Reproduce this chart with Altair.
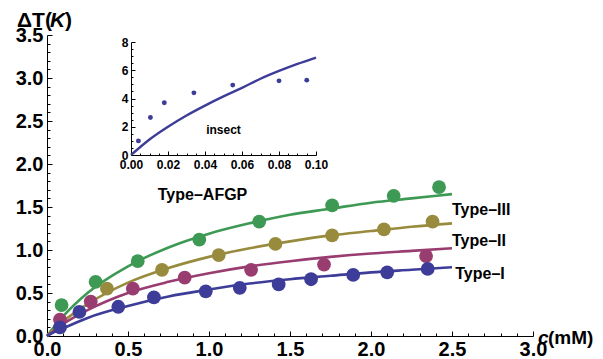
import altair as alt
import pandas as pd

# ---------------- data ----------------
series_names = ["Type-AFGP", "Type-III", "Type-II", "Type-I"]
series_colors = ["#3d9954", "#998b3d", "#993d71", "#3d3d99"]

c_afgp = [0.09, 0.30, 0.56, 0.94, 1.31, 1.76, 2.14, 2.42]
dT_afgp = [0.36, 0.63, 0.87, 1.12, 1.33, 1.52, 1.63, 1.73]
c_t3 = [0.37, 0.71, 1.06, 1.41, 1.76, 2.08, 2.38]
dT_t3 = [0.55, 0.77, 0.94, 1.07, 1.17, 1.24, 1.33]
c_t2 = [0.08, 0.27, 0.53, 0.85, 1.26, 1.71, 2.34]
dT_t2 = [0.19, 0.40, 0.55, 0.68, 0.77, 0.83, 0.93]
c_t1 = [0.08, 0.20, 0.44, 0.66, 0.98, 1.19, 1.43, 1.63, 1.89, 2.10, 2.35]
dT_t1 = [0.10, 0.28, 0.34, 0.45, 0.52, 0.56, 0.60, 0.66, 0.71, 0.74, 0.78]

c_fit = [0, 0.05, 0.1, 0.25, 0.5, 0.75, 1.0, 1.25, 1.5, 1.75, 2.0, 2.25, 2.5]
fit_afgp = [0, 0.12, 0.23, 0.50, 0.81, 1.03, 1.19, 1.31, 1.41, 1.48, 1.55, 1.60, 1.65]
fit_t3 = [0, 0.09, 0.17, 0.37, 0.62, 0.79, 0.92, 1.02, 1.10, 1.17, 1.22, 1.27, 1.31]
fit_t2 = [0, 0.07, 0.14, 0.30, 0.50, 0.63, 0.73, 0.81, 0.87, 0.92, 0.96, 0.99, 1.02]
fit_t1 = [0, 0.05, 0.09, 0.21, 0.35, 0.46, 0.54, 0.61, 0.66, 0.70, 0.74, 0.77, 0.80]

label_text = ["Type\u2013AFGP", "Type\u2013III", "Type\u2013II", "Type\u2013I"]
label_c = [0.96, 2.50, 2.50, 2.52]
label_dT = [1.64, 1.46, 1.10, 0.72]
label_align = ["center", "left", "left", "left"]

# inset (insect)
ci = [0.004, 0.0105, 0.018, 0.034, 0.055, 0.080, 0.095]
dTi = [1.0, 2.65, 3.7, 4.4, 4.95, 5.25, 5.3]
ci_fit = [0, 0.01, 0.02, 0.03, 0.04, 0.05, 0.06, 0.07, 0.08, 0.09, 0.10]
dTi_fit = [0, 1.1, 2.0, 2.8, 3.5, 4.15, 4.75, 5.4, 5.95, 6.45, 6.9]

# ---------------- tables ----------------
pts = pd.concat([
    pd.DataFrame({"c": c, "dT": d, "s": n})
    for c, d, n in zip([c_afgp, c_t3, c_t2, c_t1], [dT_afgp, dT_t3, dT_t2, dT_t1], series_names)
])
fits = pd.concat([
    pd.DataFrame({"c": c_fit, "dT": f, "s": n})
    for f, n in zip([fit_afgp, fit_t3, fit_t2, fit_t1], series_names)
])
labels = pd.DataFrame({"c": label_c, "dT": label_dT, "t": label_text, "a": label_align})
ins_pts = pd.DataFrame({"ci": ci, "dTi": dTi})
ins_fit = pd.DataFrame({"ci": ci_fit, "dTi": dTi_fit})

FONT = "Liberation Sans"
W, H = 486, 301

x_ticks = [round(i * 0.1, 2) for i in range(0, 31)]
y_ticks = [round(i * 0.1, 2) for i in range(0, 36)]
xi_ticks = [round(i * 0.005, 3) for i in range(0, 21)]
yi_ticks = [round(i * 0.5, 2) for i in range(0, 17)]

major_half = "abs(datum.value*2 - round(datum.value*2)) < 0.001"

x_main = alt.X("c:Q", scale=alt.Scale(domain=[0, 3.0], nice=False, zero=False),
               axis=alt.Axis(orient="bottom", values=x_ticks, title=None,
                             labelExpr=f"{major_half} ? format(datum.value, '.1f') : ''",
                             tickSize={"expr": f"{major_half} ? -5 : -3"},
                             labelPadding=8, labelFontSize=20))
y_main = alt.Y("dT:Q", scale=alt.Scale(domain=[0, 3.5], nice=False, zero=False),
               axis=alt.Axis(orient="left", values=y_ticks, title=None,
                             labelExpr=f"{major_half} ? format(datum.value, '.1f') : ''",
                             tickSize={"expr": f"{major_half} ? -5 : -3"},
                             labelPadding=9, labelFontSize=20))
color = alt.Color("s:N", scale=alt.Scale(domain=series_names, range=series_colors), legend=None)

lines = alt.Chart(fits).mark_line(strokeWidth=2.6, interpolate="monotone").encode(
    x=x_main, y=y_main, color=color, detail="s:N")
points = alt.Chart(pts).mark_circle(size=190, opacity=1).encode(x=x_main, y=y_main, color=color)
lab_left = alt.Chart(labels[labels.a == "left"]).mark_text(
    font=FONT, fontWeight="bold", fontSize=16, baseline="middle", align="left").encode(
    x=x_main, y=y_main, text="t:N")
lab_center = alt.Chart(labels[labels.a == "center"]).mark_text(
    font=FONT, fontWeight="bold", fontSize=16, baseline="middle", align="center").encode(
    x=x_main, y=y_main, text="t:N")

one = alt.Data(values=[{"k": 1}])
ytitle1 = alt.Chart(one).mark_text(text="\u0394T(", font=FONT, fontWeight="bold", fontSize=21,
                                   align="left", baseline="alphabetic").encode(
    x=alt.value(-30), y=alt.value(-8))
ytitle2 = alt.Chart(one).mark_text(text="K", font=FONT, fontWeight="bold", fontStyle="italic",
                                   fontSize=21, align="left", baseline="alphabetic").encode(
    x=alt.value(3), y=alt.value(-8))
ytitle3 = alt.Chart(one).mark_text(text=")", font=FONT, fontWeight="bold", fontSize=21,
                                   align="left", baseline="alphabetic").encode(
    x=alt.value(18), y=alt.value(-8))
xtitle1 = alt.Chart(one).mark_text(text="c", font=FONT, fontWeight="bold", fontStyle="italic",
                                   fontSize=19, align="left", baseline="alphabetic").encode(
    x=alt.value(491), y=alt.value(309))
xtitle2 = alt.Chart(one).mark_text(text="(mM)", font=FONT, fontWeight="bold", fontSize=19,
                                   align="left", baseline="alphabetic").encode(
    x=alt.value(501), y=alt.value(309))

main = alt.layer(lines, points, lab_left, lab_center, ytitle1, ytitle2, ytitle3, xtitle1, xtitle2)

# inset: plot area from page x 131..316, y 42..155 ; main plot origin at page (47, 35)
major_xi = "abs(datum.value*50 - round(datum.value*50)) < 0.001"
major_yi = "abs(datum.value/2 - round(datum.value/2)) < 0.001"
x_in = alt.X("ci:Q", scale=alt.Scale(domain=[0, 0.1], range=[84, 269], nice=False, zero=False),
             axis=alt.Axis(orient="bottom", offset=-181, values=xi_ticks, title=None,
                           labelExpr=f"{major_xi} ? format(datum.value, '.2f') : ''",
                           tickSize={"expr": f"{major_xi} ? -4 : -2"},
                           labelPadding=8, labelFontSize=12))
y_in = alt.Y("dTi:Q", scale=alt.Scale(domain=[0, 8], range=[120, 7], nice=False, zero=False),
             axis=alt.Axis(orient="left", offset=-84, values=yi_ticks, title=None,
                           labelExpr=f"{major_yi} ? format(datum.value, 'd') : ''",
                           tickSize={"expr": f"{major_yi} ? -4 : -2"},
                           labelPadding=7, labelFontSize=12))
in_line = alt.Chart(ins_fit).mark_line(color="#3d3d99", strokeWidth=2.4, interpolate="monotone").encode(
    x=x_in, y=y_in)
in_pts = alt.Chart(ins_pts).mark_circle(color="#3d3d99", size=24, opacity=1).encode(x=x_in, y=y_in)
in_text = alt.Chart(pd.DataFrame({"ci": [0.05], "dTi": [1.8], "t": ["insect"]})).mark_text(
    font=FONT, fontWeight="bold", fontSize=12, align="center", baseline="middle").encode(
    x=x_in, y=y_in, text="t:N")
inset = alt.layer(in_line, in_pts, in_text)

chart = alt.layer(main, inset).resolve_scale(x="independent", y="independent").properties(
    width=W, height=H,
    autosize=alt.AutoSizeParams(type="none"),
    padding={"left": 39, "top": 27, "right": 62, "bottom": 27},
).configure_view(stroke=None).configure_axis(
    grid=False, labelFont=FONT, labelFontWeight="bold", labelColor="black",
    domainColor="black", tickColor="black", domainWidth=1, tickWidth=1,
    labelOverlap=False, labelFlush=False,
)

chart.save("out.html", embed_options={"renderer": "svg", "actions": False})
